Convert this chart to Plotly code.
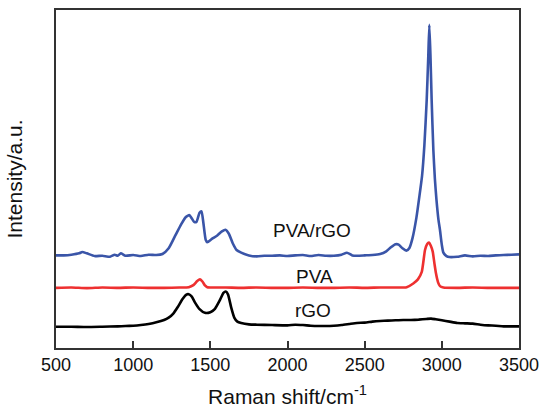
import plotly.graph_objects as go

# Raman shift (cm^-1) and intensity (a.u., vertically offset) for each sample
rgo_shift = [500, 600, 700, 800, 900, 950, 1000, 1050, 1100, 1150, 1200, 1230, 1260, 1290,
             1320, 1345, 1360, 1380, 1400, 1430, 1465, 1500, 1530, 1560, 1585, 1600, 1615,
             1635, 1655, 1675, 1700, 1750, 1800, 1900, 2000, 2050, 2100, 2150, 2200, 2250,
             2300, 2350, 2400, 2450, 2500, 2550, 2600, 2650, 2700, 2750, 2800, 2850, 2900,
             2930, 2960, 3000, 3050, 3100, 3150, 3200, 3250, 3300, 3350, 3400, 3450, 3500]
rgo_int = [6.3, 6.3, 6.2, 6.3, 6.4, 6.5, 6.6, 6.8, 7.1, 7.6, 8.3, 9.0, 10.2, 12.2,
           14.5, 15.8, 15.9, 15.2, 13.5, 11.5, 10.4, 10.6, 11.6, 14.0, 16.3, 16.7, 15.8,
           12.0, 9.0, 7.8, 7.4, 7.0, 6.9, 6.8, 6.7, 6.9, 6.8, 6.6, 6.5, 6.5,
           6.6, 6.8, 7.1, 7.4, 7.5, 7.8, 8.0, 8.1, 8.2, 8.3, 8.3, 8.4, 8.6,
           8.7, 8.5, 8.2, 7.8, 7.4, 7.3, 7.2, 6.9, 6.7, 6.6, 6.4, 6.4, 6.4]

pva_shift = [500, 600, 700, 800, 900, 1000, 1100, 1200, 1300, 1360, 1390, 1415, 1433, 1450,
             1465, 1480, 1550, 1600, 1700, 1800, 1900, 2000, 2100, 2200, 2300, 2400, 2500,
             2600, 2700, 2772, 2815, 2845, 2870, 2891, 2905, 2917, 2928, 2941, 2952, 2962,
             2975, 2988, 3010, 3100, 3200, 3300, 3400, 3500]
pva_int = [17.8, 17.9, 17.7, 17.9, 17.8, 17.9, 17.8, 17.8, 17.9, 18.0, 18.6, 19.8, 20.3, 19.6,
           18.5, 18.0, 17.9, 17.9, 17.8, 17.9, 17.8, 17.8, 17.9, 17.8, 17.8, 17.9, 17.8,
           17.9, 17.9, 18.0, 19.1, 20.3, 22.5, 29.0, 30.8, 31.2, 30.3, 28.5, 25.0, 22.1,
           19.5, 18.3, 17.9, 17.8, 17.9, 17.8, 17.8, 17.8]

comp_shift = [500, 550, 600, 650, 670, 700, 750, 800, 850, 880, 900, 920, 950, 1000, 1050,
              1100, 1150, 1190, 1230, 1270, 1310, 1340, 1365, 1395, 1410, 1430, 1443, 1455,
              1470, 1480, 1510, 1545, 1575, 1598, 1620, 1645, 1670, 1700, 1750, 1800, 1850,
              1900, 1950, 2000, 2050, 2100, 2150, 2200, 2250, 2300, 2350, 2385, 2420, 2450,
              2500, 2550, 2600, 2640, 2670, 2700, 2720, 2745, 2770, 2790, 2810, 2835, 2855,
              2872, 2887, 2902, 2912, 2919, 2926, 2934, 2945, 2955, 2965, 2978, 2988, 3000,
              3010, 3030, 3050, 3100, 3150, 3200, 3250, 3300, 3350, 3400, 3450, 3500]
comp_int = [27.4, 27.4, 27.6, 28.0, 28.4, 28.0, 27.2, 27.3, 27.0, 27.6, 27.3, 28.0, 27.3, 27.5, 27.2,
            27.6, 27.5, 27.8, 29.5, 33.0, 36.5, 38.7, 39.3, 37.3, 37.3, 40.0, 40.4, 37.0,
            32.0, 31.3, 32.3, 33.3, 34.5, 35.0, 33.8, 31.0, 29.0, 28.2, 27.4, 27.1, 27.3,
            27.3, 27.4, 27.2, 27.4, 27.5, 27.2, 27.5, 27.3, 27.3, 27.6, 28.2, 27.4, 27.3,
            27.4, 27.5, 27.8, 28.6, 29.8, 30.7, 30.6, 29.5, 28.8, 29.6, 32.5, 38.5, 45.0,
            51.0, 60.0, 73.4, 86.0, 95.6, 87.0, 73.4, 58.6, 50.0, 44.0, 38.0, 34.9, 30.5,
            28.2, 27.2, 26.9, 27.0, 27.4, 27.1, 27.3, 27.2, 27.4, 27.5, 27.6, 27.7]

x_ticks = [500, 1000, 1500, 2000, 2500, 3000, 3500]

FONT = "Arial, Liberation Sans, sans-serif"

fig = go.Figure()
for xs, ys, color in [(rgo_shift, rgo_int, "#000000"),
                      (pva_shift, pva_int, "#EE3030"),
                      (comp_shift, comp_int, "#3A55A8")]:
    fig.add_trace(go.Scatter(x=xs, y=ys, mode="lines",
                             line=dict(color=color, width=2.6, shape="spline", smoothing=0.5),
                             showlegend=False, hoverinfo="skip"))

# sample labels next to each spectrum
for text, x, y in [("PVA/rGO", 2157, 34.7), ("PVA", 2178, 21.3), ("rGO", 2167, 11.2)]:
    fig.add_annotation(x=x, y=y, text=text, showarrow=False,
                       font=dict(family=FONT, size=19, color="#111111"))

fig.update_layout(
    width=542, height=408,
    margin=dict(l=56, r=23, t=10, b=60),
    paper_bgcolor="white", plot_bgcolor="white",
    font=dict(family=FONT, color="#111111"),
)
fig.update_xaxes(
    range=[500, 3500], tickvals=x_ticks, ticks="inside", ticklen=7, tickwidth=1.5,
    tickcolor="#333333", showline=True, linecolor="#333333", linewidth=1.5, mirror=True,
    showgrid=False, zeroline=False, tickfont=dict(size=18, family=FONT), automargin=False,
    title=dict(text="Raman shift/cm<sup>-1</sup>", font=dict(size=21, family=FONT), standoff=24),
)
fig.update_yaxes(
    range=[0, 100], showticklabels=False, ticks="", showline=True, linecolor="#333333",
    linewidth=1.5, mirror=True, showgrid=False, zeroline=False, automargin=False,
    title=dict(text="Intensity/a.u.", font=dict(size=21, family=FONT), standoff=26),
)

fig.write_html("out.html")
